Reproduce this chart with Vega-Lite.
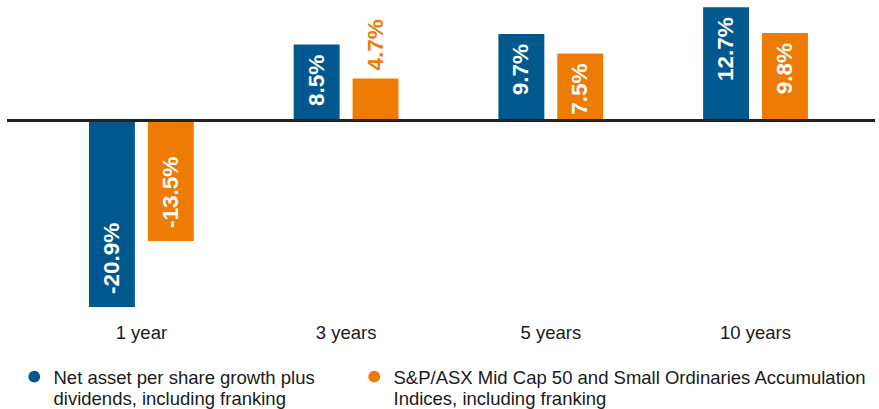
{
  "$schema": "https://vega.github.io/schema/vega-lite/v6.json",
  "width": 868,
  "height": 315,
  "autosize": {"type": "none"},
  "padding": {"left": 7, "top": 0, "right": 4, "bottom": 94},
  "config": {
    "view": {"stroke": null},
    "font": "Liberation Sans",
    "locale": {"number": {"decimal": ".", "thousands": ",", "grouping": [3], "currency": ["$", ""], "minus": "-"}}
  },
  "data": {
    "values": [
      {"period": "1 year", "series": "Net asset per share growth plus dividends, including franking", "value": -0.209},
      {"period": "1 year", "series": "S&P/ASX Mid Cap 50 and Small Ordinaries Accumulation Indices, including franking", "value": -0.135},
      {"period": "3 years", "series": "Net asset per share growth plus dividends, including franking", "value": 0.085},
      {"period": "3 years", "series": "S&P/ASX Mid Cap 50 and Small Ordinaries Accumulation Indices, including franking", "value": 0.047},
      {"period": "5 years", "series": "Net asset per share growth plus dividends, including franking", "value": 0.097},
      {"period": "5 years", "series": "S&P/ASX Mid Cap 50 and Small Ordinaries Accumulation Indices, including franking", "value": 0.075},
      {"period": "10 years", "series": "Net asset per share growth plus dividends, including franking", "value": 0.127},
      {"period": "10 years", "series": "S&P/ASX Mid Cap 50 and Small Ordinaries Accumulation Indices, including franking", "value": 0.098}
    ]
  },
  "encoding": {
    "x": {
      "field": "period",
      "type": "nominal",
      "sort": ["1 year", "3 years", "5 years", "10 years"],
      "scale": {"paddingInner": 0.488, "paddingOuter": 0.364, "align": 0.55},
      "axis": {"title": null, "domain": false, "ticks": false, "labelAngle": 0, "labelFontSize": 18.5, "labelColor": "#1a1a1a", "labelPadding": 8}
    },
    "xOffset": {"field": "series", "type": "nominal", "scale": {"paddingInner": 0.22, "paddingOuter": 0}},
    "y": {"field": "value", "type": "quantitative", "scale": {"domain": [-0.218, 0.135], "nice": false, "zero": false}, "axis": null}
  },
  "layer": [
    {
      "mark": {"type": "bar"},
      "encoding": {
        "y2": {"datum": 0},
        "color": {
          "field": "series",
          "type": "nominal",
          "scale": {
            "domain": ["Net asset per share growth plus dividends, including franking", "S&P/ASX Mid Cap 50 and Small Ordinaries Accumulation Indices, including franking"],
            "range": ["#00588F", "#EE7B04"]
          },
          "legend": {
            "title": null,
            "orient": "none",
            "legendX": 18,
            "legendY": 367,
            "direction": "horizontal",
            "columns": 2,
            "padding": 0,
            "symbolType": "circle",
            "symbolSize": 140,
            "symbolStrokeWidth": 0,
            "labelFontSize": 18.5,
            "labelColor": "#1a1a1a",
            "labelLimit": 600,
            "labelOffset": 10,
            "columnPadding": 50,
            "labelBaseline": "top",
            "labelExpr": "datum.label[0] == 'N' ? ['Net asset per share growth plus', 'dividends, including franking'] : ['S&P/ASX Mid Cap 50 and Small Ordinaries Accumulation', 'Indices, including franking']",
            "encode": {"labels": {"update": {"lineHeight": {"value": 21.5}, "dy": {"value": -8}}}}
          }
        }
      }
    },
    {
      "transform": [{"filter": "datum.value >= 0.05"}],
      "mark": {"type": "text", "angle": 270, "align": "right", "baseline": "middle", "dx": -10, "color": "white", "fontWeight": "bold", "fontSize": 22.5},
      "encoding": {"text": {"field": "value", "type": "quantitative", "format": ".1%"}}
    },
    {
      "transform": [{"filter": "datum.value > 0 && datum.value < 0.05"}],
      "mark": {"type": "text", "angle": 270, "align": "left", "baseline": "middle", "dx": 8, "color": "#EE7B04", "fontWeight": "bold", "fontSize": 22.5},
      "encoding": {"text": {"field": "value", "type": "quantitative", "format": ".1%"}}
    },
    {
      "transform": [{"filter": "datum.value < 0"}],
      "mark": {"type": "text", "angle": 270, "align": "left", "baseline": "middle", "dx": 13, "color": "white", "fontWeight": "bold", "fontSize": 22.5},
      "encoding": {"text": {"field": "value", "type": "quantitative", "format": ".1%"}}
    },
    {
      "mark": {"type": "rule", "color": "#222222", "strokeWidth": 2},
      "encoding": {"y": {"datum": 0}, "x": null, "xOffset": null}
    }
  ]
}
